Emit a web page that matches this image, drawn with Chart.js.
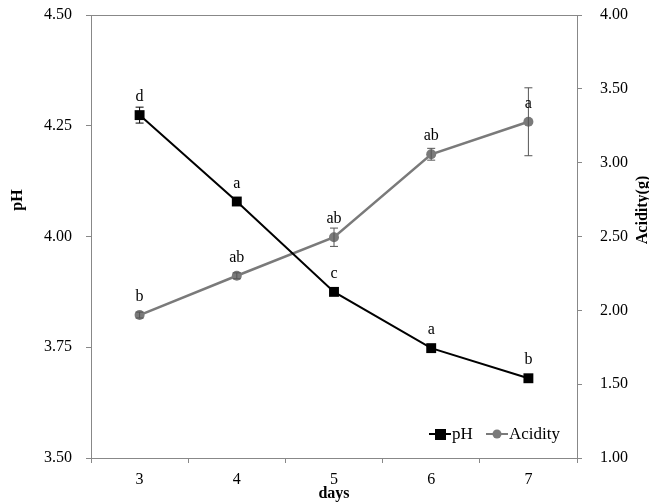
<!DOCTYPE html>
<html>
<head>
<meta charset="utf-8">
<script src="https://cdn.jsdelivr.net/npm/chart.js@4"></script>
<style>
  body { margin: 0; background: #fff; }
  #wrap { width: 649px; height: 503px; }
</style>
</head>
<body>
<div id="wrap"><canvas id="chart" width="649" height="503"></canvas></div>
<script>
// veriler
const days = ['3', '4', '5', '6', '7'];
const phValues = [4.274, 4.079, 3.875, 3.748, 3.680];
const phErrors = [0.018, 0.006, 0.006, 0.006, 0.006];
const phLetters = ['d', 'a', 'c', 'a', 'b'];
const acidityValues = [1.968, 2.234, 2.495, 3.057, 3.277];
const acidityErrors = [0.02, 0.02, 0.062, 0.04, 0.23];
const acidityLetters = ['b', 'ab', 'ab', 'ab', 'a'];
const phTicks = [3.50, 3.75, 4.00, 4.25, 4.50];
const acidityTicks = [1.00, 1.50, 2.00, 2.50, 3.00, 3.50, 4.00];

const SERIF = '"Liberation Serif", "Times New Roman", serif';
const AXIS = '#888';
const GRAY = '#7a7a7a';

// hata çubukları, harfler, başlıklar ve lejant
const extras = {
    id: 'extras',
    afterDatasetsDraw(chart) {
        const ctx = chart.ctx;
        const area = chart.chartArea;
        const errs = [phErrors, acidityErrors];
        const letters = [phLetters, acidityLetters];
        const errColors = ['#000', '#555'];

        // üst çerçeve
        ctx.save();
        ctx.strokeStyle = AXIS;
        ctx.lineWidth = 1;
        ctx.beginPath();
        ctx.moveTo(area.left - 5, area.top + 0.5);
        ctx.lineTo(area.right + 5, area.top + 0.5);
        ctx.stroke();

        chart.data.datasets.forEach((ds, i) => {
            const meta = chart.getDatasetMeta(i);
            const scale = chart.scales[ds.yAxisID];
            meta.data.forEach((pt, j) => {
                const v = ds.data[j];
                const yTop = scale.getPixelForValue(v + errs[i][j]);
                const yBot = scale.getPixelForValue(v - errs[i][j]);
                ctx.strokeStyle = errColors[i];
                ctx.lineWidth = 1;
                ctx.beginPath();
                ctx.moveTo(pt.x, yTop); ctx.lineTo(pt.x, yBot);
                ctx.moveTo(pt.x - 4, yTop); ctx.lineTo(pt.x + 4, yTop);
                ctx.moveTo(pt.x - 4, yBot); ctx.lineTo(pt.x + 4, yBot);
                ctx.stroke();

                ctx.fillStyle = '#000';
                ctx.font = '16px ' + SERIF;
                ctx.textAlign = 'center';
                ctx.textBaseline = 'middle';
                ctx.fillText(letters[i][j], pt.x, pt.y - 18);
            });
        });

        // eksen başlıkları
        ctx.fillStyle = '#000';
        ctx.font = 'bold 16px ' + SERIF;
        ctx.textAlign = 'center';
        ctx.textBaseline = 'middle';
        ctx.save();
        ctx.translate(18, 200);
        ctx.rotate(-Math.PI / 2);
        ctx.fillText('pH', 0, 0);
        ctx.restore();
        ctx.save();
        ctx.translate(643, 210);
        ctx.rotate(-Math.PI / 2);
        ctx.fillText('Acidity(g)', 0, 0);
        ctx.restore();

        // lejant
        const ly = area.bottom - 24;
        ctx.lineWidth = 2;
        ctx.strokeStyle = '#000';
        ctx.beginPath(); ctx.moveTo(429, ly); ctx.lineTo(451, ly); ctx.stroke();
        ctx.fillStyle = '#000';
        ctx.fillRect(435, ly - 5, 11, 11);
        ctx.strokeStyle = GRAY;
        ctx.beginPath(); ctx.moveTo(486, ly); ctx.lineTo(508, ly); ctx.stroke();
        ctx.fillStyle = GRAY;
        ctx.beginPath(); ctx.arc(497, ly, 4.5, 0, Math.PI * 2); ctx.fill();
        ctx.fillStyle = '#000';
        ctx.font = '17px ' + SERIF;
        ctx.textAlign = 'left';
        ctx.fillText('pH', 452, ly + 1);
        ctx.fillText('Acidity', 509, ly + 1);
        ctx.restore();
    }
};

const tickFont = { family: SERIF, size: 16 };

// eksen boyutlarını sabitle
function fixVertical(w) {
    return s => { s.width = w; s.paddingTop = 0; s.paddingBottom = 0; };
}

new Chart(document.getElementById('chart'), {
    type: 'line',
    data: {
        labels: days,
        datasets: [{
            label: 'pH',
            data: phValues,
            yAxisID: 'y',
            borderColor: '#000',
            backgroundColor: '#000',
            borderWidth: 2,
            pointStyle: 'rect',
            pointRadius: 7,
            pointBorderWidth: 0,
            tension: 0
        }, {
            label: 'Acidity',
            data: acidityValues,
            yAxisID: 'y1',
            borderColor: GRAY,
            backgroundColor: GRAY,
            borderWidth: 2.5,
            pointStyle: 'circle',
            pointRadius: 5,
            pointBorderWidth: 0,
            tension: 0
        }]
    },
    options: {
        responsive: false,
        animation: false,
        layout: { padding: { top: 15, left: 0, right: 0, bottom: 0 } },
        plugins: { legend: { display: false }, tooltip: { enabled: false } },
        scales: {
            x: {
                offset: true,
                afterFit: s => { s.height = 45; s.paddingLeft = 0; s.paddingRight = 0; },
                grid: { offset: true, drawOnChartArea: false, color: AXIS, tickLength: 5 },
                border: { color: AXIS },
                ticks: { color: '#000', font: tickFont, padding: 7, maxRotation: 0 },
                title: { display: true, text: 'days', color: '#000',
                         font: { family: SERIF, size: 16, weight: 'bold' }, padding: { top: 0, bottom: 0 } }
            },
            y: {
                position: 'left',
                min: 3.5, max: 4.5,
                afterFit: fixVertical(91),
                afterBuildTicks: s => { s.ticks = phTicks.map(v => ({ value: v })); },
                grid: { drawOnChartArea: false, color: AXIS, tickLength: 5 },
                border: { color: AXIS },
                ticks: { color: '#000', font: tickFont, padding: 14, callback: v => v.toFixed(2) }
            },
            y1: {
                position: 'right',
                min: 1, max: 4,
                afterFit: fixVertical(72),
                afterBuildTicks: s => { s.ticks = acidityTicks.map(v => ({ value: v })); },
                grid: { drawOnChartArea: false, color: AXIS, tickLength: 5 },
                border: { color: AXIS },
                ticks: { color: '#000', font: tickFont, padding: 18, callback: v => v.toFixed(2) }
            }
        }
    },
    plugins: [extras]
});
</script>
</body>
</html>
